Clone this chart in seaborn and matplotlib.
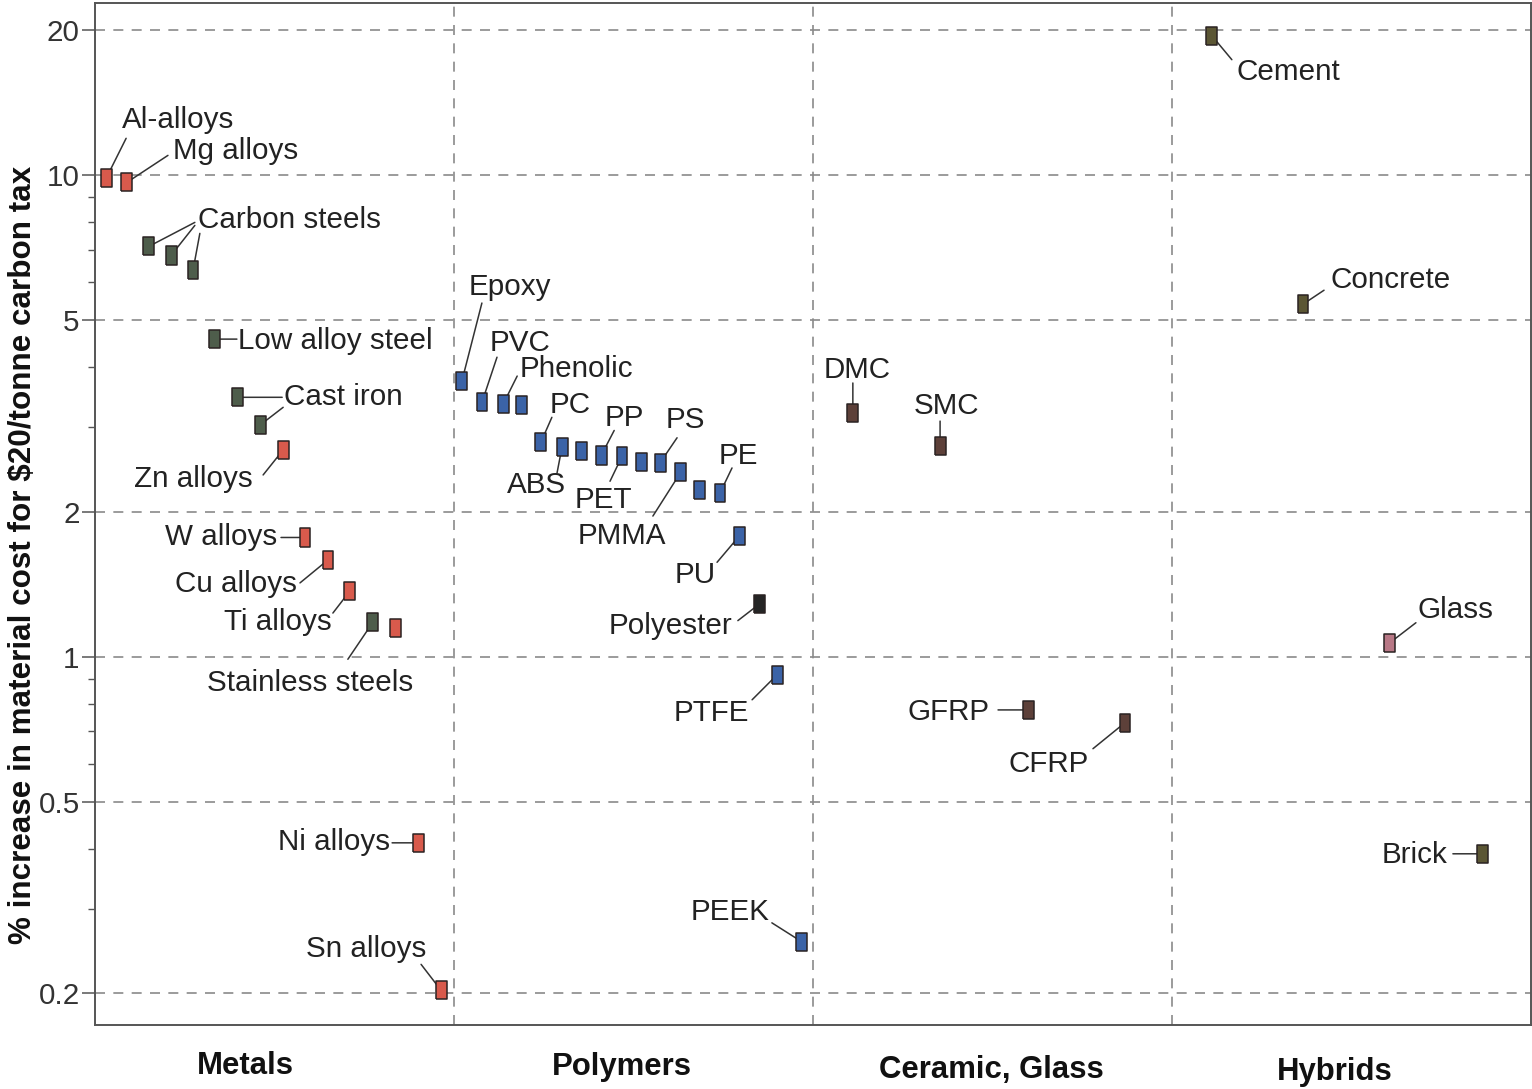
import numpy as np
import pandas as pd
import matplotlib
matplotlib.use("Agg")
import matplotlib.pyplot as plt
from matplotlib.markers import MarkerStyle
from matplotlib.ticker import LogLocator, NullFormatter
from matplotlib.transforms import offset_copy, blended_transform_factory
import seaborn as sns

# ---------------------------------------------------------------- data
families = ["Metals", "Polymers", "Ceramic, Glass", "Hybrids"]

metal_names = ["Al-alloys", "Mg alloys", "Carbon steels", "Carbon steels", "Carbon steels",
               "Low alloy steel", "Cast iron", "Cast iron", "Zn alloys", "W alloys",
               "Cu alloys", "Ti alloys", "Stainless steels", "", "Ni alloys", "Sn alloys"]
metal_kind = ["non-ferrous", "non-ferrous", "ferrous", "ferrous", "ferrous",
              "ferrous", "ferrous", "ferrous", "non-ferrous", "non-ferrous",
              "non-ferrous", "non-ferrous", "ferrous", "non-ferrous", "non-ferrous", "non-ferrous"]
metal_x = [0.031, 0.089, 0.150, 0.212, 0.273, 0.334, 0.396, 0.460,
           0.524, 0.585, 0.649, 0.710, 0.774, 0.838, 0.900, 0.964]
metal_pct = [9.86, 9.67, 7.12, 6.82, 6.35, 4.57, 3.46, 3.03,
             2.69, 1.77, 1.59, 1.37, 1.18, 1.15, 0.411, 0.203]

polymer_names = ["Epoxy", "PVC", "Phenolic", "", "PC", "ABS", "", "PP", "PET", "",
                 "PS", "PMMA", "", "PE", "PU", "Polyester", "PTFE", "PEEK"]
polymer_kind = ["polymer", "polymer", "polymer", "polymer", "polymer", "polymer",
                "polymer", "polymer", "polymer", "polymer", "polymer", "polymer",
                "polymer", "polymer", "polymer", "polyester", "polymer", "polymer"]
polymer_x = [1.022, 1.078, 1.137, 1.187, 1.242, 1.301, 1.354, 1.410, 1.468,
             1.521, 1.574, 1.632, 1.683, 1.741, 1.794, 1.852, 1.900, 1.969]
polymer_pct = [3.74, 3.38, 3.35, 3.33, 2.79, 2.73, 2.68, 2.62, 2.61,
               2.54, 2.53, 2.42, 2.22, 2.19, 1.78, 1.29, 0.918, 0.256]

ceramic_names = ["DMC", "SMC", "GFRP", "CFRP"]
ceramic_kind = ["composite", "composite", "composite", "composite"]
ceramic_x = [2.111, 2.354, 2.599, 2.869]
ceramic_pct = [3.21, 2.74, 0.776, 0.730]

hybrid_names = ["Cement", "Concrete", "Glass", "Brick"]
hybrid_kind = ["mineral", "mineral", "glass", "mineral"]
hybrid_x = [3.111, 3.365, 3.607, 3.866]
hybrid_pct = [19.5, 5.40, 1.07, 0.390]

y_ticks = [0.2, 0.5, 1, 2, 5, 10, 20]
y_tick_labels = ["0.2", "0.5", "1", "2", "5", "10", "20"]
y_title = "% increase in material cost for $20/tonne carbon tax"

df = pd.concat([
    pd.DataFrame({"name": metal_names, "kind": metal_kind, "x": metal_x, "pct": metal_pct}),
    pd.DataFrame({"name": polymer_names, "kind": polymer_kind, "x": polymer_x, "pct": polymer_pct}),
    pd.DataFrame({"name": ceramic_names, "kind": ceramic_kind, "x": ceramic_x, "pct": ceramic_pct}),
    pd.DataFrame({"name": hybrid_names, "kind": hybrid_kind, "x": hybrid_x, "pct": hybrid_pct}),
], ignore_index=True)

palette = {
    "non-ferrous": "#d85a4c",
    "ferrous": "#4e5d4b",
    "polymer": "#3b63a7",
    "polyester": "#252525",
    "composite": "#5d4039",
    "mineral": "#5b5634",
    "glass": "#b87886",
}

# ---------------------------------------------------------------- style
sns.set_theme(style="ticks")
plt.rcParams["font.family"] = ["Liberation Sans", "DejaVu Sans"]
plt.rcParams["axes.unicode_minus"] = False

W, H = 1532, 1089
fig = plt.figure(figsize=(W / 100, H / 100), dpi=100)
ax = fig.add_axes([95 / W, 1 - 1025 / H, 1436 / W, 1022 / H])

# upright rectangular marker
box = MarkerStyle([(-0.3, -0.5), (0.3, -0.5), (0.3, 0.5), (-0.3, 0.5), (-0.3, -0.5)])

sns.scatterplot(data=df, x="x", y="pct", hue="kind", palette=palette, marker=box,
                s=172, edgecolor="#2a2222", linewidth=1.1, legend=False,
                zorder=5, ax=ax)

ax.set_yscale("log")
ax.set_xlim(0, 4)
ax.set_ylim(0.172, 22.8)

# ---------------------------------------------------------------- axes
grid_kw = dict(color="#8a8a8a", lw=1.2, dashes=(6, 5), zorder=1)
for yv in y_ticks:
    ax.axhline(yv, **grid_kw)
for xv in (1, 2, 3):
    ax.axvline(xv, **grid_kw)

ax.set_yticks(y_ticks, y_tick_labels)
ax.yaxis.set_minor_locator(LogLocator(base=10, subs=np.arange(2, 10)))
ax.yaxis.set_minor_formatter(NullFormatter())
ax.tick_params(axis="y", which="major", length=9.5, width=1.1, color="#555555",
               labelsize=21.3, labelcolor="#333333", pad=1.5, direction="out")
ax.tick_params(axis="y", which="minor", length=5, width=1.0, color="#555555",
               direction="out")
ax.set_xticks([])
for sp in ax.spines.values():
    sp.set_color("#555555")
    sp.set_linewidth(1.4)

ax.set_xlabel("")
ax.set_ylabel(y_title, fontsize=22.6, fontweight="bold", color="#111111")
ax.yaxis.set_label_coords(-0.040, 0.46)

# family names under each column: (x centre, y in axes fraction)
family_pos = [(0.418, -0.040), (1.468, -0.041), (2.496, -0.044), (3.454, -0.046)]
tr = blended_transform_factory(ax.transData, ax.transAxes)
for fam, (fx, fy) in zip(families, family_pos):
    ax.text(fx, fy, fam, transform=tr, ha="center", va="center",
            fontsize=22.4, fontweight="bold", color="#111111")

# ---------------------------------------------------------------- labels
# name -> (text dx, text dy, alignment, leader start offsets per marker)
# offsets in pixels from the first marker of that name, y measured downward
label_layout = {
    "Al-alloys": (16, -50, "left", [(20, -40)]),
    "Mg alloys": (46, -23, "left", [(41, -27)]),
    "Carbon steels": (49, -18, "left", [(46, -24), (46, -21), (51, -13)]),
    "Low alloy steel": (23, 10, "left", [(22, 0)]),
    "Cast iron": (47, 8, "left", [(45, 0), (46, 10)]),
    "Zn alloys": (-30, 37, "right", [(-20, 25)]),
    "W alloys": (-28, 8, "right", [(-24, 0)]),
    "Cu alloys": (-31, 32, "right", [(-28, 23)]),
    "Ti alloys": (-18, 39, "right", [(-17, 22)]),
    "Stainless steels": (-166, 69, "left", [(-25, 37)]),
    "Ni alloys": (-28, 7, "right", [(-26, 0)]),
    "Sn alloys": (-15, -33, "right", [(-20, -26)]),
    "Epoxy": (7, -86, "left", [(20, -78)]),
    "PVC": (8, -51, "left", [(15, -45)]),
    "Phenolic": (16, -27, "left", [(14, -28)]),
    "PC": (9, -29, "left", [(11, -25)]),
    "ABS": (-55, 46, "left", [(-5, 26)]),
    "PP": (3, -29, "left", [(13, -25)]),
    "PET": (-47, 52, "left", [(-12, 25)]),
    "PS": (6, -35, "left", [(17, -25)]),
    "PMMA": (-103, 72, "left", [(-28, 44)]),
    "PE": (-1, -29, "left", [(12, -25)]),
    "PU": (-64, 47, "left", [(-22, 26)]),
    "Polyester": (-27, 30, "right", [(-22, 17)]),
    "PTFE": (-28, 46, "right", [(-25, 25)]),
    "PEEK": (-32, -22, "right", [(-30, -19)]),
    "DMC": (4, -35, "center", [(0, -30)]),
    "SMC": (6, -32, "center", [(0, -25)]),
    "GFRP": (-38, 10, "right", [(-30, 0)]),
    "CFRP": (-36, 49, "right", [(-32, 26)]),
    "Cement": (25, 44, "left", [(20, 24)]),
    "Concrete": (27, -16, "left", [(21, -14)]),
    "Glass": (28, -25, "left", [(26, -20)]),
    "Brick": (-35, 9, "right", [(-30, 0)]),
}

line_kw = dict(arrowstyle="-", color="#333333", lw=1.1, shrinkA=0, shrinkB=0)
for name, (dx, dy, ha, starts) in label_layout.items():
    pts = df[df["name"] == name]
    x0, y0 = pts["x"].iloc[0], pts["pct"].iloc[0]
    ax.annotate(name, xy=(x0, y0), xytext=(dx, -dy), textcoords="offset pixels",
                ha=ha, va="baseline", fontsize=21.3, color="#222222", zorder=6)
    for (sx, sy), (_, row) in zip(starts, pts.iterrows()):
        start = offset_copy(ax.transData, fig=fig, x=sx, y=-sy, units="dots")
        ax.annotate("", xy=(row["x"], row["pct"]), xytext=(x0, y0), textcoords=start,
                    arrowprops=line_kw, zorder=4)

fig.savefig("out.png", dpi=100)
